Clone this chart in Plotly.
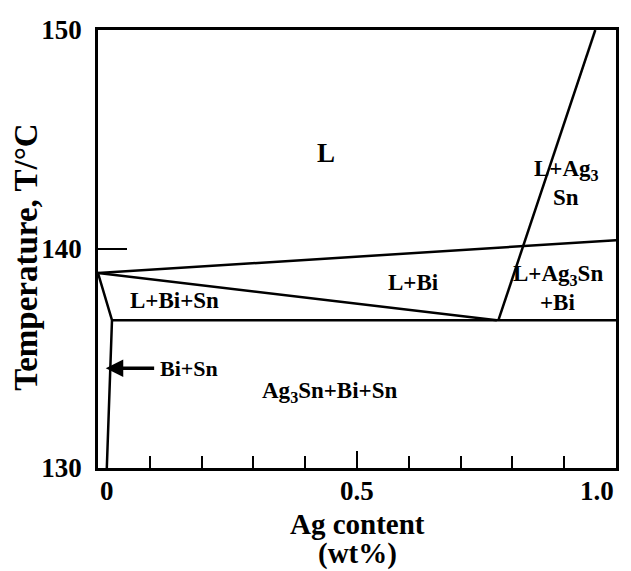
import plotly.graph_objects as go

# Phase boundary data (Ag content wt%, temperature °C)
upper_liq_x = [0.0, 1.0]
upper_liq_y = [138.9, 140.4]
lower_liq_x = [0.0, 0.77]
lower_liq_y = [138.9, 136.75]
eutectic_x = [0.027, 1.0]
eutectic_y = [136.75, 136.75]
left_solvus_x = [0.0, 0.027, 0.017]
left_solvus_y = [138.9, 136.75, 130.0]
ag3sn_liq_x = [0.773, 0.96]
ag3sn_liq_y = [136.75, 150.0]

region_labels = ["L", "L+Ag<sub>3</sub>", "Sn", "L+Bi", "L+Ag<sub>3</sub>Sn", "+Bi", "L+Bi+Sn", "Ag<sub>3</sub>Sn+Bi+Sn"]
region_x = [0.44, 0.904, 0.904, 0.61, 0.888, 0.888, 0.148, 0.446]
region_y = [144.4, 143.6, 142.33, 138.49, 138.81, 137.58, 137.67, 133.47]

x_tickvals = [0, 0.5, 1.0]
x_ticktext = ["0", "0.5", "1.0"]
y_tickvals = [130, 140, 150]
y_ticktext = ["130", "140", "150"]

FONT = "Liberation Serif"
fig = go.Figure()
for xs, ys in [(upper_liq_x, upper_liq_y), (lower_liq_x, lower_liq_y), (eutectic_x, eutectic_y),
               (left_solvus_x, left_solvus_y), (ag3sn_liq_x, ag3sn_liq_y)]:
    fig.add_trace(go.Scatter(x=xs, y=ys, mode="lines", line=dict(color="black", width=2.5),
                             showlegend=False, hoverinfo="skip", cliponaxis=True))

for t, x, y in zip(region_labels, region_x, region_y):
    fig.add_annotation(x=x, y=y, text="<b>%s</b>" % t, showarrow=False,
                       font=dict(family=FONT, size=23 if t != "L" else 27, color="black"))

# arrow to Bi+Sn sliver
fig.add_annotation(x=0.015, y=134.55, ax=0.175, ay=134.55, axref="x", ayref="y",
                   text="<b>Bi+Sn</b>", showarrow=True, arrowhead=2, arrowsize=1.0, arrowwidth=3.5,
                   arrowcolor="black", standoff=0, startstandoff=4,
                   font=dict(family=FONT, size=22, color="black"))

# x tick labels
anchors = ["left", "center", "right"]
for v, t, a in zip(x_tickvals, x_ticktext, anchors):
    fig.add_annotation(x=v, y=0, xref="x", yref="paper", yanchor="top", xanchor=a, yshift=-6,
                       text="<b>%s</b>" % t, showarrow=False,
                       font=dict(family=FONT, size=27, color="black"))

fig.add_annotation(x=0.5, y=0, xref="x", yref="paper", yanchor="top", yshift=-38,
                   text="<b>Ag content</b>", showarrow=False, font=dict(family=FONT, size=29, color="black"))
fig.add_annotation(x=0.5, y=0, xref="x", yref="paper", yanchor="top", yshift=-67,
                   text="<b>(wt%)</b>", showarrow=False, font=dict(family=FONT, size=29, color="black"))

# y axis title
fig.add_annotation(x=0, y=139.6, xref="paper", yref="y", xanchor="center", yanchor="middle",
                   xshift=-72, textangle=-90, text="<b>Temperature, T/°C</b>", showarrow=False,
                   font=dict(family=FONT, size=33, color="black"))

fig.update_layout(
    width=631, height=571,
    margin=dict(l=98, r=13, t=30, b=103),
    paper_bgcolor="white", plot_bgcolor="white",
    font=dict(family=FONT, color="black"),
    xaxis=dict(range=[0, 1], showgrid=False, zeroline=False, showline=True, mirror=True,
               linecolor="black", linewidth=2.5, ticks="inside", tickvals=x_tickvals,
               ticklen=17, tickwidth=2, tickcolor="black", showticklabels=False,
               minor=dict(dtick=0.1, tick0=0, ticks="inside", ticklen=12, tickwidth=2, tickcolor="black")),
    yaxis=dict(range=[130, 150], showgrid=False, zeroline=False, showline=True, mirror=True,
               linecolor="black", linewidth=2.5, ticks="inside", tickvals=y_tickvals,
               ticktext=["<b>%s</b>" % t for t in y_ticktext],
               ticklen=29, tickwidth=2, tickcolor="black", ticklabelstandoff=8,
               tickfont=dict(family=FONT, size=27, color="black")),
)
fig.write_html("out.html")
